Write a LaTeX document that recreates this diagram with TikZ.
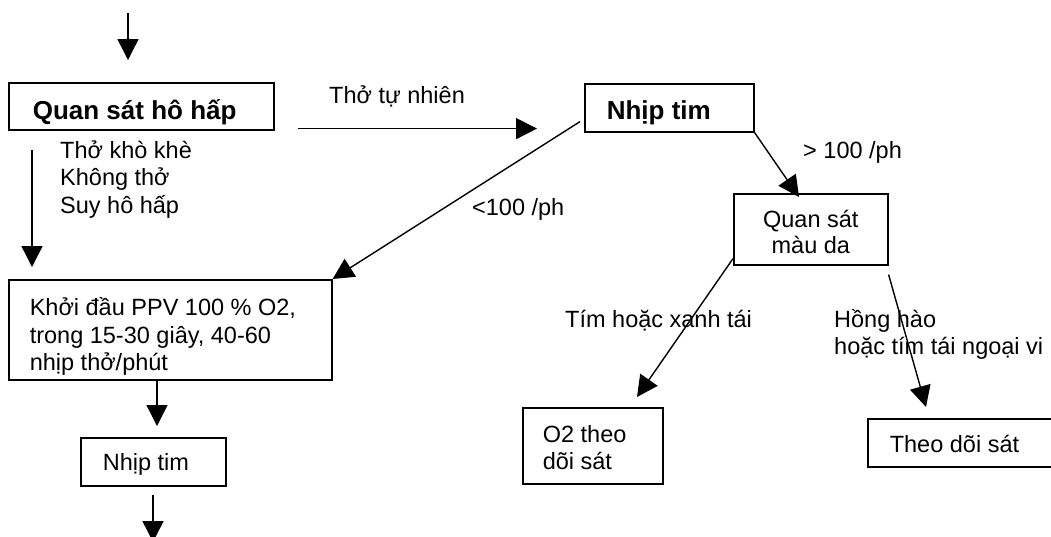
\documentclass[tikz,border=0pt]{standalone}
\usepackage{fontspec}
\setmainfont{Liberation Sans}
\usetikzlibrary{arrows.meta}

\tikzset{
  box/.style={draw, line width=1.6pt, inner sep=0pt, anchor=north west,
    font=\fontsize{23.5}{27.5}\selectfont},
  lbl/.style={inner sep=0pt, anchor=base west, font=\fontsize{23.5}{27.5}\selectfont},
  arr/.style={-{Triangle[length=21pt,width=21pt]}, line width=1.4pt},
}

\begin{document}
\begin{tikzpicture}[x=1pt,y=-1pt]
        \useasboundingbox (0,0) rectangle (1051,536);
        \clip (0,0) rectangle (1051,536);

        % boxes
        \node[box, inner xsep=24pt] (quan) at (8,82) {\parbox[c][47pt][t]{217pt}{\fontsize{26}{30}\selectfont\bfseries\rule{0pt}{37pt}Quan sát hô hấp}};
        \node[box, inner xsep=22pt] (nhip) at (584,83) {\parbox[c][48pt][t]{125pt}{\fontsize{26}{30}\selectfont\bfseries\rule{0pt}{36pt}Nhịp tim}};
        \node[box] (mau) at (733,193) {\parbox[c][71pt][t]{154pt}{\centering\fontsize{23.5}{26}\selectfont\rule{0pt}{34pt}Quan sát\\màu da}};
        \node[box, inner xsep=21pt] (khoi) at (8,279) {\parbox[c][100pt][t]{281pt}{\rule{0pt}{36pt}Khởi đầu PPV 100 \% O2,\\trong 15-30 giây, 40-60\\nhịp thở/phút}};
        \node[box, inner xsep=22pt] (nhip2) at (80,437) {\parbox[c][48pt][t]{101pt}{\rule{0pt}{33pt}Nhịp tim}};
        \node[box, inner xsep=20pt] (o2) at (522,407) {\parbox[c][76pt][t]{100pt}{\fontsize{23.5}{27}\selectfont\rule{0pt}{35pt}O2 theo\\dõi sát}};
        \node[box, inner xsep=22pt] (theo) at (867,418) {\parbox[c][48pt][t]{150pt}{\rule{0pt}{34pt}Theo dõi sát}};

        % labels
        \node[lbl] (tutn) at (329,103) {Thở tự nhiên};
        \node[lbl, anchor=north west, align=left] (kho) at (60,136) {\rule{0pt}{22pt}Thở khò khè\\Không thở\\Suy hô hấp};
        \node[lbl] (duoi) at (472,215) {<100 /ph};
        \node[lbl] (tren) at (803,158) {> 100 /ph};
        \node[lbl] (tim) at (565,327) {Tím hoặc xanh tái};
        \node[lbl, anchor=north west, align=left] (hong) at (834,305) {\rule{0pt}{22pt}Hồng hào\\hoặc tím tái ngoại vi};

        %% arrows
        \coordinate (in) at (128,13);
        \coordinate (out) at (153,542);
        \draw[arr, shorten >=22pt] (in) -- (in |- quan.north);
        \draw[arr] ([shift={(23,-2)}]quan.south east) -- ([shift={(-47,-4)}]nhip.south west);
        \draw[arr] ([shift={(-4,-11)}]nhip.south west) -- (khoi.north east);
        \draw[arr] (nhip.south east) -- ([shift={(66,4)}]mau.north west);
        \draw[arr] ([shift={(0,-7)}]mau.south west) -- ([shift={(115,-10)}]o2.north west);
        \draw[arr] ([shift={(0,9)}]mau.south east) -- ([shift={(59,-11)}]theo.north west);
        \draw[arr] ([shift={(24,19)}]quan.south west) -- ([shift={(24,-12)}]khoi.north west);
        \draw[arr] ([shift={(149,0)}]khoi.south west) -- ([shift={(77,-11)}]nhip2.north west);
        \draw[arr] ([shift={(73,8)}]nhip2.south west) -- (out);
\end{tikzpicture}
\end{document}
